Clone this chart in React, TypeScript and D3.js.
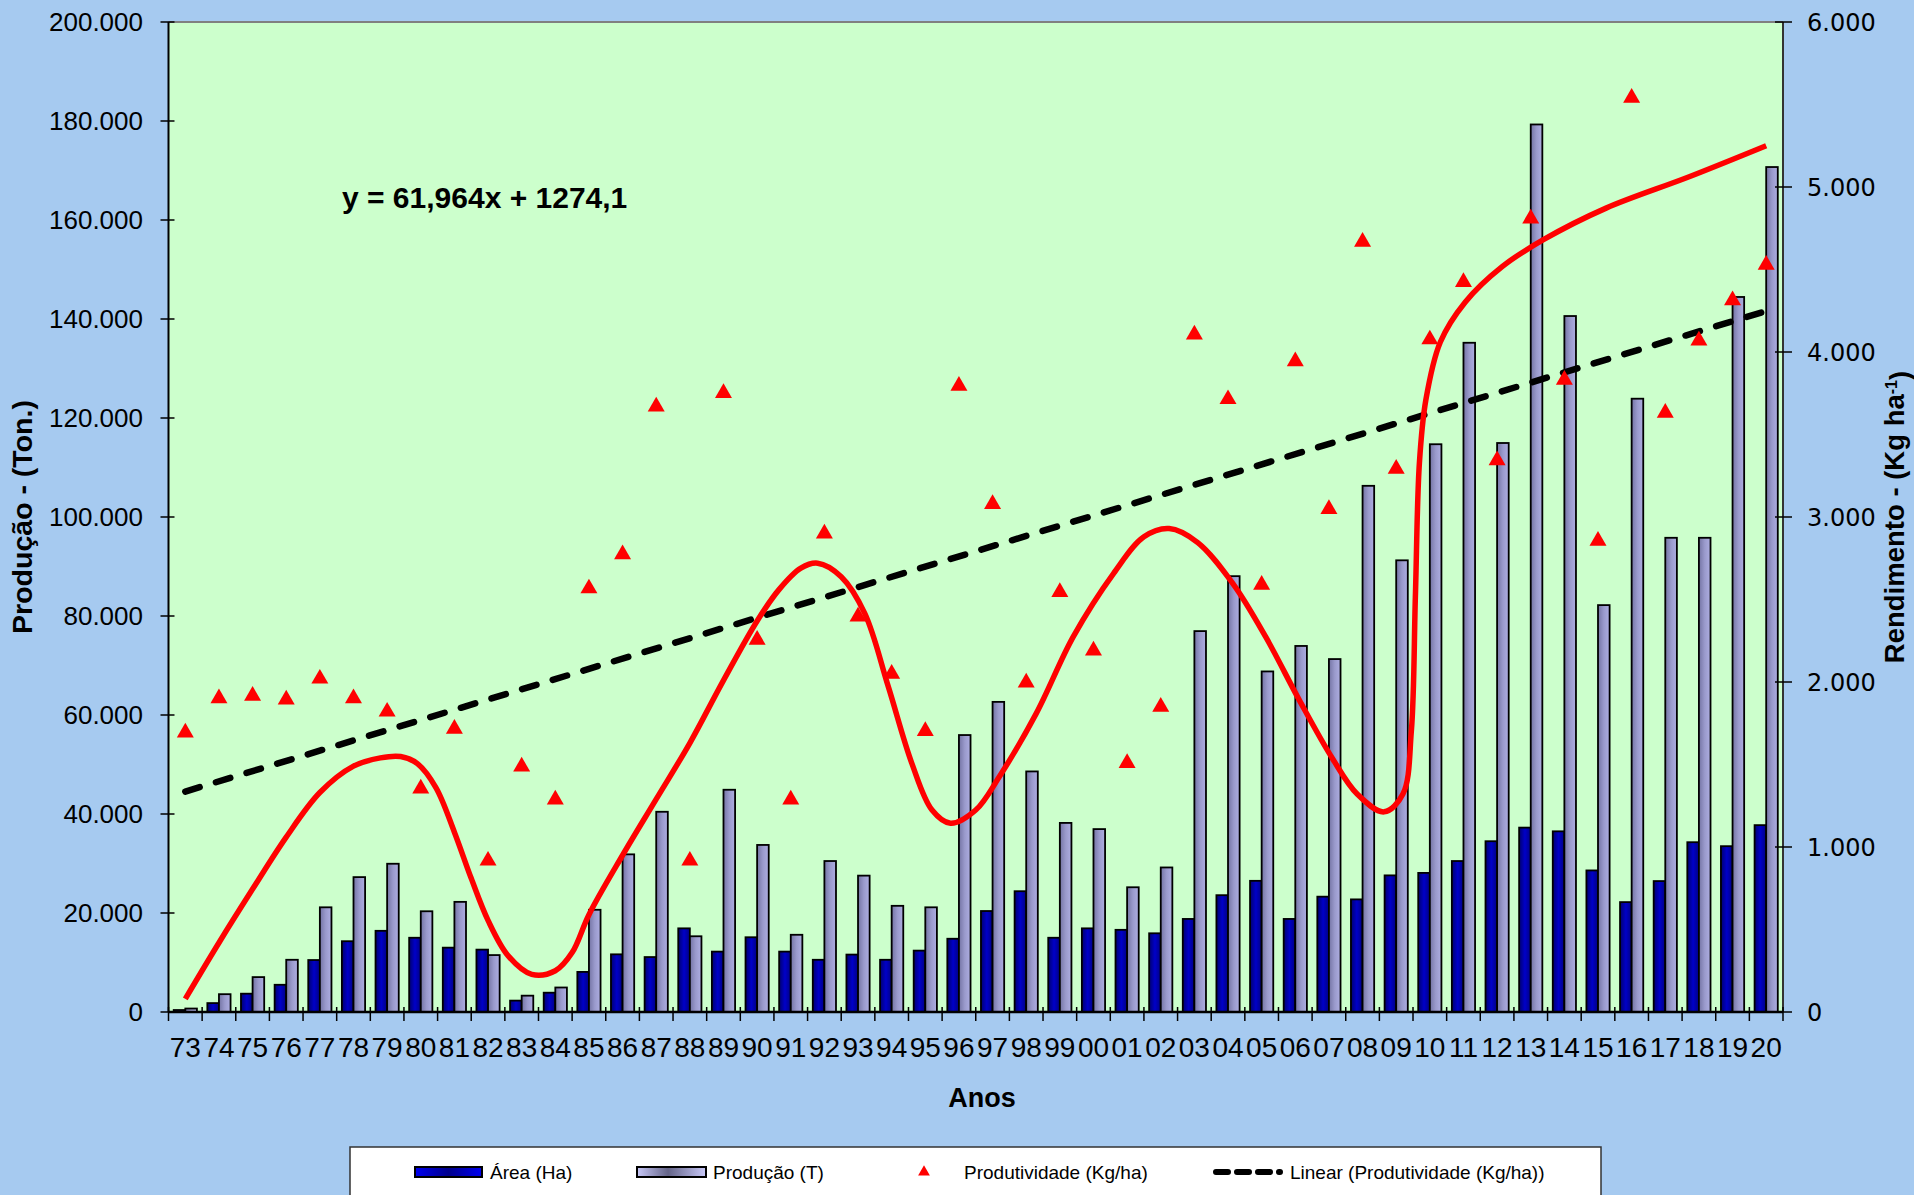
import React from 'react';
import * as d3 from 'd3';

const years = ['73','74','75','76','77','78','79','80','81','82','83','84','85','86','87','88','89','90','91','92','93','94','95','96','97','98','99','00','01','02','03','04','05','06','07','08','09','10','11','12','13','14','15','16','17','18','19','20'];

const area = [400, 1800, 3700, 5500, 10500, 14300, 16400, 15000, 13000, 12600,
  2300, 3900, 8100, 11650, 11100, 16900, 12200, 15100, 12200, 10550,
  11600, 10550, 12400, 14800, 20400, 24400, 15000, 16900, 16600, 15900,
  18800, 23600, 26500, 18800, 23300, 22750, 27600, 28100, 30500, 34500,
  37250, 36500, 28600, 22200, 26450, 34300, 33500, 37750];

const producao = [700, 3600, 7050, 10550, 21150, 27250, 29950, 20350, 22250, 11500,
  3300, 4950, 20650, 31850, 40450, 15300, 44900, 33750, 15600, 30500,
  27550, 21450, 21150, 55950, 62650, 48600, 38200, 36950, 25200, 29200,
  76950, 88050, 68800, 73950, 71300, 106300, 91250, 114700, 135200, 114950,
  179300, 140600, 82200, 123900, 95800, 95800, 144450, 170700];

const produtividade = [1694, 1901, 1916, 1894, 2020, 1901, 1820, 1354, 1716, 917,
  1487, 1287, 2567, 2774, 3669, 917, 3751, 2256, 1287, 2900,
  2397, 2049, 1702, 3795, 3078, 1997, 2545, 2190, 1509, 1850,
  4106, 3714, 2589, 3943, 3048, 4668, 3292, 4076, 4424, 3344,
  4809, 3832, 2856, 5541, 3632, 4069, 4313, 4528];

// Linear trend (from equation shown on chart)
const trendSlope = 61.964;
const trendIntercept = 1274.1;

// Red smoothed curve: position (category index) and value (Kg/ha)
const curveIndex = [0, 1, 2, 3, 4, 5, 5.8, 6.4, 6.9, 7.45, 8.0, 8.5, 9.0, 9.6, 10.3, 11.0, 11.5, 12.0,
  13.0, 14.0, 15.0, 16.0, 17.0, 17.65, 18.3, 18.8, 19.5, 20.2, 20.9, 21.6, 22.2, 22.75, 23.5, 24.2,
  25.3, 26.4, 27.6, 28.5, 29.25, 30.1, 31.15, 32.13, 33.12, 34.1, 34.84, 35.64, 36.2, 36.45, 36.57,
  36.69, 36.88, 37.31, 38.05, 39.16, 40.39, 42.24, 44.71, 47];
const curveValue = [80, 420, 745, 1060, 1330, 1490, 1540, 1548, 1505, 1360, 1090, 810, 555, 340, 228, 250, 360, 590,
  950, 1290, 1630, 2010, 2370, 2560, 2690, 2720, 2638, 2416, 1972, 1507, 1224, 1144, 1224, 1426,
  1810, 2275, 2659, 2880, 2930, 2845, 2595, 2270, 1890, 1538, 1321, 1213, 1321, 1701, 2514,
  3327, 3707, 4059, 4302, 4519, 4682, 4872, 5062, 5250];

const leftTicks = [0, 20000, 40000, 60000, 80000, 100000, 120000, 140000, 160000, 180000, 200000];
const rightTicks = [0, 1000, 2000, 3000, 4000, 5000, 6000];

const ptLocale = d3.formatLocale({ decimal: ',', thousands: '.', grouping: [3], currency: ['R$', ''] });
const fmt = ptLocale.format(',');

const FONT = "'Liberation Sans', Arial, sans-serif";

export default function App() {
  const W = 1914, H = 1195;
  const L = 168.5, R = 1783, T = 22, B = 1012;

  const x = d3.scaleBand<string>().domain(years).range([L, R]).paddingInner(0.31).paddingOuter(0.155);
  const bw = x.bandwidth() / 2;
  const step = x.step();
  const xi = d3.scaleLinear().domain([-0.5, years.length - 0.5]).range([L, R]);
  const yL = d3.scaleLinear().domain([0, 200000]).range([B, T]);
  const yR = d3.scaleLinear().domain([0, 6000]).range([B, T]);

  const redPath = d3.line<number>()
    .x((_, i) => xi(curveIndex[i]))
    .y((d) => yR(d))
    .curve(d3.curveCatmullRom.alpha(0.5))(curveValue) || '';

  const trendIdx = [0, years.length - 1];
  const trendPath = d3.line<number>()
    .x((d) => xi(d))
    .y((d) => yR(trendSlope * (d + 1) + trendIntercept))(trendIdx) || '';

  const tri = d3.symbol().type(d3.symbolTriangle).size(125)() || '';
  const triLegend = d3.symbol().type(d3.symbolTriangle).size(60)() || '';

  const xTickPos = d3.range(years.length + 1).map((k) => L + k * step);

  return (
    <svg width={W} height={H} style={{ position: 'absolute', left: 0, top: 0, display: 'block' }}
      fontFamily={FONT}>
      <defs>
        <linearGradient id="gArea" x1="0" x2="1" y1="0" y2="0">
          <stop offset="0" stopColor="#000070" />
          <stop offset="0.5" stopColor="#0000C8" />
          <stop offset="1" stopColor="#000084" />
        </linearGradient>
        <linearGradient id="gProd" x1="0" x2="1" y1="0" y2="0">
          <stop offset="0" stopColor="#7474A4" />
          <stop offset="0.5" stopColor="#9A9ACC" />
          <stop offset="1" stopColor="#AEAEE2" />
        </linearGradient>
        <linearGradient id="gAreaLeg" x1="0" x2="1" y1="0" y2="0">
          <stop offset="0" stopColor="#0000F0" />
          <stop offset="0.5" stopColor="#00008C" />
          <stop offset="1" stopColor="#0000F0" />
        </linearGradient>
        <linearGradient id="gProdLeg" x1="0" x2="1" y1="0" y2="0">
          <stop offset="0" stopColor="#C8C8F8" />
          <stop offset="0.45" stopColor="#646488" />
          <stop offset="1" stopColor="#C8C8F8" />
        </linearGradient>
      </defs>

      <rect x={0} y={0} width={W} height={H} fill="#A6CAF0" />
      <rect x={L} y={T} width={R - L} height={B - T} fill="#CCFFCC" />

      {/* bars */}
      {years.map((yr, i) => (
        <g key={yr}>
          <rect x={x(yr)!} y={yL(area[i])} width={bw} height={B - yL(area[i])}
            fill="url(#gArea)" stroke="#000" strokeWidth={1.8} />
          <rect x={x(yr)! + bw} y={yL(producao[i])} width={bw} height={B - yL(producao[i])}
            fill="url(#gProd)" stroke="#000" strokeWidth={1.8} />
        </g>
      ))}

      {/* frame */}
      <line x1={L} x2={R} y1={T} y2={T} stroke="#808080" strokeWidth={2} />
      <line x1={L} x2={L} y1={T} y2={B} stroke="#000" strokeWidth={2} />
      <line x1={R} x2={R} y1={T} y2={B} stroke="#333" strokeWidth={2} />
      <line x1={L} x2={R} y1={B} y2={B} stroke="#000" strokeWidth={2.5} />

      {/* trend line */}
      <path d={trendPath} fill="none" stroke="#000" strokeWidth={6.5} strokeDasharray="15 17" strokeLinecap="round" />

      {/* red curve */}
      <path d={redPath} fill="none" stroke="#FF0000" strokeWidth={5.5} strokeLinejoin="round" strokeLinecap="butt" />

      {/* triangles */}
      {produtividade.map((v, i) => (
        <path key={i} d={tri} transform={`translate(${x(years[i])! + x.bandwidth() / 2},${yR(v)})`} fill="#FF0000" />
      ))}

      {/* left axis ticks & labels */}
      {leftTicks.map((t) => (
        <g key={t}>
          <line x1={L - 8} x2={L + 6} y1={yL(t)} y2={yL(t)} stroke="#000" strokeWidth={1.5} />
          <text x={143} y={yL(t)} dy="0.36em" textAnchor="end" fontSize={26} fill="#000">{fmt(t)}</text>
        </g>
      ))}
      {/* right axis */}
      {rightTicks.map((t) => (
        <g key={t}>
          <line x1={R - 8} x2={R + 9} y1={yR(t)} y2={yR(t)} stroke="#000" strokeWidth={1.5} />
          <text x={1807} y={yR(t)} dy="0.36em" textAnchor="start" fontSize={24} fontFamily="'DejaVu Sans', Verdana, sans-serif" fill="#000">{fmt(t)}</text>
        </g>
      ))}
      {/* x ticks */}
      {xTickPos.map((p, k) => (
        <line key={k} x1={p} x2={p} y1={B - 5} y2={B + 9} stroke="#000" strokeWidth={1.5} />
      ))}
      {years.map((yr) => (
        <text key={yr} x={x(yr)! + x.bandwidth() / 2} y={1057} textAnchor="middle" fontSize={28} fill="#000">{yr}</text>
      ))}

      {/* titles */}
      <text x={982} y={1097} dy="0.36em" textAnchor="middle" fontSize={27} fontWeight="bold">Anos</text>
      <text transform={`translate(22,${(T + B) / 2}) rotate(-90)`} dy="0.36em" textAnchor="middle" fontSize={28.5} fontWeight="bold">Produção - (Ton.)</text>
      <text transform={`translate(1894,${(T + B) / 2}) rotate(-90)`} dy="0.36em" textAnchor="middle" fontSize={27.5} fontWeight="bold">
        Rendimento - (Kg ha<tspan dy="-0.45em" fontSize={16}>-1</tspan><tspan dy="0.45em">)</tspan>
      </text>
      <text x={342} y={208} fontSize={30} fontWeight="bold">y = 61,964x + 1274,1</text>

      {/* legend */}
      <rect x={350} y={1147} width={1251} height={60} fill="#FFFFFF" stroke="#333" strokeWidth={1.5} />
      <rect x={415} y={1167} width={67} height={10} fill="url(#gAreaLeg)" stroke="#000" strokeWidth={2} />
      <text x={490} y={1172} dy="0.36em" fontSize={19}>Área (Ha)</text>
      <rect x={637} y={1167} width={69} height={10} fill="url(#gProdLeg)" stroke="#000" strokeWidth={2} />
      <text x={713} y={1172} dy="0.36em" fontSize={19}>Produção (T)</text>
      <path d={triLegend} transform="translate(924,1172)" fill="#FF0000" />
      <text x={964} y={1172} dy="0.36em" fontSize={19}>Produtividade (Kg/ha)</text>
      <line x1={1216} x2={1280} y1={1172} y2={1172} stroke="#000" strokeWidth={6} strokeDasharray="12 9" strokeLinecap="round" />
      <text x={1290} y={1172} dy="0.36em" fontSize={19}>Linear (Produtividade (Kg/ha))</text>
    </svg>
  );
}
